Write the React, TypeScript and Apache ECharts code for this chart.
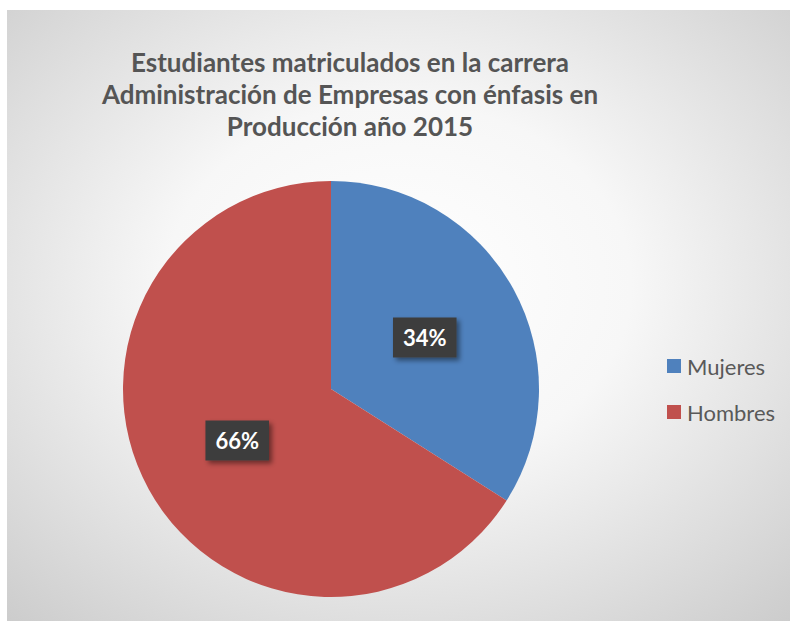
import React, { useEffect, useRef } from "react";
import * as echarts from "echarts";

const titleLines = [
  "Estudiantes matriculados en la carrera",
  "Administración de Empresas con énfasis en",
  "Producción año 2015",
];
const categories = ["Mujeres", "Hombres"];
const values = [34, 66];
const colors = ["#4f81bd", "#c0504d"];

export default function App() {
  const ref = useRef<HTMLDivElement>(null);
  useEffect(() => {
    if (!ref.current) return;
    const chart = echarts.init(ref.current, null, { renderer: "svg" });
    chart.setOption({
      animation: false,
      backgroundColor: "#ffffff",
      graphic: [
        {
          type: "rect",
          z: -10,
          silent: true,
          shape: { x: 7, y: 10, width: 783, height: 611 },
          style: {
            fill: {
              type: "radial",
              x: 0.5,
              y: 0.45,
              r: 0.85,
              colorStops: [
                { offset: 0, color: "#ffffff" },
                { offset: 0.35, color: "#f7f7f7" },
                { offset: 1, color: "#c2c2c2" },
              ],
            },
          },
        },
        {
          type: "text",
          x: 350,
          y: 94,
          style: {
            text: titleLines.join("\n"),
            fill: "#555555",
            font: "bold 26px Lato, 'Open Sans', sans-serif",
            lineHeight: 32,
            align: "center",
            verticalAlign: "middle",
          },
        },
      ],
      legend: {
        orient: "vertical",
        left: 667,
        top: 355,
        padding: 0,
        itemWidth: 14,
        itemHeight: 14,
        itemGap: 24,
        icon: "rect",
        data: categories,
        textStyle: {
          fontFamily: "Lato, 'Open Sans', sans-serif",
          fontSize: 22,
          lineHeight: 22,
          color: "#595959",
          padding: [0, 0, 0, 1],
        },
      },
      series: [
        {
          type: "pie",
          center: [331, 389],
          radius: 208,
          startAngle: 90,
          clockwise: true,
          silent: true,
          data: categories.map((c, i) => ({
            name: c,
            value: values[i],
            itemStyle: { color: colors[i] },
          })),
          itemStyle: { borderWidth: 0 },
          label: {
            show: true,
            position: "inside",
            formatter: "{d}%",
            color: "#ffffff",
            fontFamily: "Lato, 'Open Sans', sans-serif",
            fontWeight: "bold",
            fontSize: 22,
            backgroundColor: "#3e3e3e",
            padding: [9, 10, 9, 10],
            shadowColor: "rgba(0,0,0,0.45)",
            shadowBlur: 5,
            shadowOffsetX: 3,
            shadowOffsetY: 3,
          },
          labelLine: { show: false },
        },
      ],
    });
    return () => chart.dispose();
  }, []);
  return (
    <div
      ref={ref}
      style={{ position: "absolute", left: 0, top: 0, width: 791, height: 621 }}
    />
  );
}
